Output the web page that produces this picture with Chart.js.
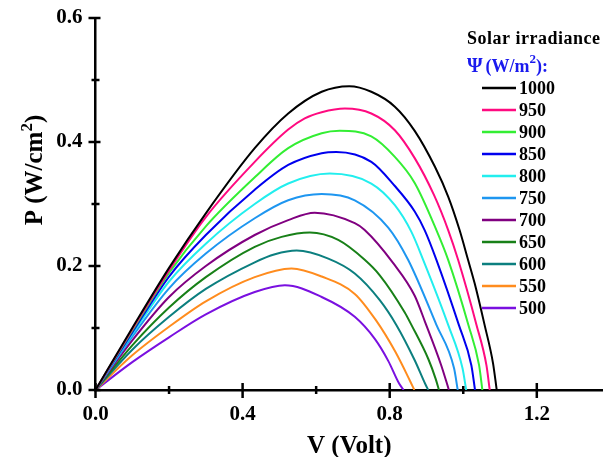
<!DOCTYPE html>
<html><head><meta charset="utf-8">
<script src="https://cdn.jsdelivr.net/npm/chart.js@4.4.1/dist/chart.umd.min.js"></script>
<style>html,body{margin:0;padding:0;background:#fff;}#wrap{width:603px;height:457px;}</style>
</head><body><div id="wrap"><canvas id="c" width="603" height="457"></canvas></div>
<script>
// Irradiance levels (W/m²) and colours
const irradiance = ['1000','950','900','850','800','750','700','650','600','550','500'];
const colors = ['#000000','#ff0a80','#33ee33','#0000ee','#22eeee','#1e96f0','#800080','#188018','#0c7f7f','#ff8c1e','#7a10e0'];

// P (W/cm²) versus V (Volt): [V, P]
const s1000 = [[0,0],[0.1,0.100],[0.2,0.197],[0.3,0.285],[0.433,0.390],[0.524,0.446],[0.615,0.481],[0.69,0.490],[0.75,0.481],[0.814,0.457],[0.868,0.418],[0.923,0.360],[0.959,0.312],[0.99,0.258],[1.013,0.210],[1.031,0.172],[1.058,0.105],[1.081,0.043],[1.091,0]];
const s950 = [[0,0],[0.1,0.098],[0.2,0.193],[0.3,0.279],[0.433,0.368],[0.524,0.420],[0.569,0.438],[0.615,0.448],[0.678,0.454],[0.75,0.446],[0.814,0.419],[0.868,0.374],[0.92,0.315],[0.959,0.258],[0.986,0.210],[1.036,0.105],[1.063,0.040],[1.072,0]];
const s900 = [[0,0],[0.1,0.096],[0.2,0.189],[0.3,0.264],[0.433,0.343],[0.524,0.390],[0.615,0.414],[0.664,0.418],[0.75,0.409],[0.814,0.376],[0.868,0.334],[0.927,0.258],[0.959,0.210],[1.014,0.105],[1.043,0.040],[1.052,0]];
const s850 = [[0,0],[0.1,0.093],[0.2,0.183],[0.3,0.250],[0.433,0.323],[0.524,0.363],[0.615,0.382],[0.655,0.384],[0.75,0.368],[0.814,0.329],[0.868,0.288],[0.895,0.258],[0.927,0.210],[0.988,0.105],[1.022,0.040],[1.032,0]];
const s800 = [[0,0],[0.1,0.090],[0.2,0.175],[0.3,0.236],[0.433,0.300],[0.524,0.333],[0.637,0.349],[0.75,0.333],[0.814,0.298],[0.859,0.255],[0.891,0.210],[0.959,0.105],[0.998,0.035],[1.008,0]];
const s750 = [[0,0],[0.1,0.086],[0.2,0.164],[0.3,0.220],[0.433,0.277],[0.524,0.306],[0.615,0.316],[0.705,0.306],[0.796,0.262],[0.850,0.210],[0.927,0.105],[0.975,0.035],[0.985,0]];
const s700 = [[0,0],[0.1,0.080],[0.2,0.150],[0.3,0.200],[0.433,0.250],[0.524,0.274],[0.596,0.286],[0.705,0.269],[0.732,0.258],[0.809,0.205],[0.868,0.152],[0.896,0.110],[0.94,0.040],[0.961,0]];
const s650 = [[0,0],[0.1,0.072],[0.2,0.133],[0.3,0.182],[0.433,0.231],[0.506,0.247],[0.583,0.254],[0.66,0.242],[0.732,0.210],[0.773,0.185],[0.841,0.125],[0.859,0.105],[0.905,0.050],[0.925,0.018],[0.934,0]];
const s600 = [[0,0],[0.1,0.065],[0.2,0.118],[0.3,0.163],[0.433,0.206],[0.488,0.219],[0.547,0.225],[0.633,0.212],[0.705,0.188],[0.773,0.145],[0.818,0.105],[0.868,0.048],[0.898,0.008],[0.905,0]];
const s550 = [[0,0],[0.1,0.056],[0.2,0.102],[0.3,0.143],[0.433,0.182],[0.533,0.196],[0.615,0.183],[0.705,0.155],[0.762,0.113],[0.815,0.062],[0.855,0.015],[0.867,0]];
const s500 = [[0,0],[0.1,0.045],[0.2,0.085],[0.3,0.122],[0.433,0.158],[0.515,0.169],[0.615,0.150],[0.705,0.118],[0.76,0.082],[0.796,0.047],[0.826,0.010],[0.838,0]];
const series = [s1000,s950,s900,s850,s800,s750,s700,s650,s600,s550,s500];

// Axis ticks
const xTicks = [0, 0.4, 0.8, 1.2];
const xMinor = [0.2, 0.6, 1.0];
const yTicks = [0, 0.2, 0.4, 0.6];
const yMinor = [0.1, 0.3, 0.5];

const SERIF = '"Liberation Serif", "Times New Roman", serif';

const datasets = series.map((s, i) => ({
  label: irradiance[i],
  data: s.map(p => ({x: p[0], y: p[1]})),
  borderColor: colors[i],
  backgroundColor: colors[i],
  borderWidth: 2,
  pointRadius: 0,
  showLine: true,
  fill: false,
  cubicInterpolationMode: 'monotone'
}));

const extras = {
  id: 'extras',
  afterDraw(chart) {
    const ctx = chart.ctx, ca = chart.chartArea;
    const xs = chart.scales.x, ys = chart.scales.y;
    ctx.save();
    ctx.strokeStyle = '#000';
    ctx.lineWidth = 2.5;
    // tick marks crossing the axes
    xTicks.forEach(v => { const p = xs.getPixelForValue(v); ctx.beginPath(); ctx.moveTo(p, ca.bottom - 7); ctx.lineTo(p, ca.bottom + 8); ctx.stroke(); });
    xMinor.forEach(v => { const p = xs.getPixelForValue(v); ctx.beginPath(); ctx.moveTo(p, ca.bottom - 4); ctx.lineTo(p, ca.bottom + 4); ctx.stroke(); });
    yTicks.forEach(v => { const p = ys.getPixelForValue(v); ctx.beginPath(); ctx.moveTo(ca.left - 7, p); ctx.lineTo(ca.left + 5, p); ctx.stroke(); });
    yMinor.forEach(v => { const p = ys.getPixelForValue(v); ctx.beginPath(); ctx.moveTo(ca.left - 4, p); ctx.lineTo(ca.left + 4, p); ctx.stroke(); });

    // x title
    ctx.fillStyle = '#000';
    ctx.font = 'bold 25px ' + SERIF;
    ctx.textAlign = 'center';
    ctx.textBaseline = 'alphabetic';
    ctx.fillText('V (Volt)', (ca.left + ca.right) / 2, 453);

    // y title (rotated) with superscript
    ctx.save();
    ctx.translate(42, 170);
    ctx.rotate(-Math.PI / 2);
    const big = 'bold 25px ' + SERIF, sup = 'bold 17px ' + SERIF;
    ctx.font = big; const w1 = ctx.measureText('P (W/cm').width;
    ctx.font = sup; const w2 = ctx.measureText('2').width;
    ctx.font = big; const w3 = ctx.measureText(')').width;
    let x0 = -(w1 + w2 + w3) / 2;
    ctx.textAlign = 'left';
    ctx.font = big; ctx.fillText('P (W/cm', x0, 0);
    ctx.font = sup; ctx.fillText('2', x0 + w1, -10);
    ctx.font = big; ctx.fillText(')', x0 + w1 + w2, 0);
    ctx.restore();

    // legend
    ctx.textAlign = 'left';
    ctx.textBaseline = 'alphabetic';
    ctx.fillStyle = '#000';
    ctx.font = 'bold 18px ' + SERIF;
    try { ctx.letterSpacing = '0.5px'; } catch (e) {}
    ctx.fillText('Solar irradiance', 467, 44);
    try { ctx.letterSpacing = '0px'; } catch (e) {}
    ctx.fillStyle = '#1a1aee';
    ctx.font = 'bold 20px ' + SERIF;
    ctx.fillText('\u03A8', 467, 72);
    let px = 467 + ctx.measureText('\u03A8').width + 3;
    ctx.font = 'bold 18px ' + SERIF;
    ctx.fillText('(W/m', px, 72); px += ctx.measureText('(W/m').width;
    ctx.font = 'bold 13px ' + SERIF;
    ctx.fillText('2', px, 63); px += ctx.measureText('2').width;
    ctx.font = 'bold 18px ' + SERIF;
    ctx.fillText('):', px, 72);

    ctx.textBaseline = 'middle';
    ctx.font = 'bold 18px ' + SERIF;
    chart.data.datasets.forEach((ds, i) => {
      const yy = 88 + i * 22;
      ctx.strokeStyle = ds.borderColor;
      ctx.lineWidth = 2.5;
      ctx.beginPath(); ctx.moveTo(482, yy); ctx.lineTo(516, yy); ctx.stroke();
      ctx.fillStyle = '#000';
      ctx.fillText(ds.label, 519, yy + 1);
    });
    ctx.restore();
  }
};

new Chart(document.getElementById('c'), {
  type: 'scatter',
  data: { datasets },
  options: {
    responsive: false,
    animation: false,
    devicePixelRatio: 1,
    layout: { padding: { top: 18, right: 0, left: 0, bottom: 0 } },
    plugins: { legend: { display: false }, tooltip: { enabled: false } },
    scales: {
      x: {
        type: 'linear', min: 0, max: 1.38,
        afterBuildTicks: s => { s.ticks = xTicks.map(v => ({ value: v })); },
        afterFit: s => { s.height = 67; s.paddingLeft = 0; s.paddingRight = 0; },
        grid: { display: false, drawTicks: false },
        border: { display: true, color: '#000', width: 2.5 },
        ticks: { color: '#000', padding: 12, maxRotation: 0, autoSkip: false,
          font: { family: SERIF, weight: 'bold', size: 21 },
          callback: v => Number(v).toFixed(1) }
      },
      y: {
        type: 'linear', min: 0, max: 0.6,
        afterBuildTicks: s => { s.ticks = yTicks.map(v => ({ value: v })); },
        afterFit: s => { s.width = 95.5; s.paddingTop = 0; s.paddingBottom = 0; },
        grid: { display: false, drawTicks: false },
        border: { display: true, color: '#000', width: 2.5 },
        ticks: { color: '#000', padding: 13,
          font: { family: SERIF, weight: 'bold', size: 21 },
          callback: v => Number(v).toFixed(1) }
      }
    }
  },
  plugins: [extras]
});
</script></body></html>
